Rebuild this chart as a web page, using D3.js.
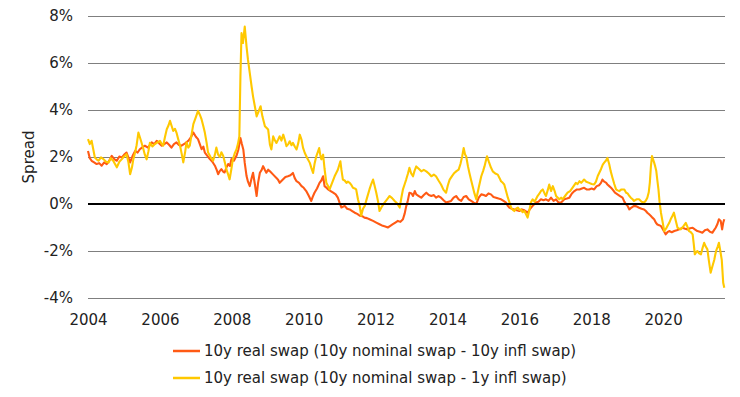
<!DOCTYPE html>
<html>
<head>
<meta charset="utf-8">
<script src="https://cdn.jsdelivr.net/npm/d3@7"></script>
<style>
  html, body { margin: 0; padding: 0; background: #fff; }
  svg { display: block; }
  text { font-family: "DejaVu Sans", Verdana, sans-serif; fill: #222; }
</style>
</head>
<body>
<div id="chart"></div>
<script>
	'use strict';

	////////// Data (decimal year, spread in %) //////////
	const yTicks = [-4, -2, 0, 2, 4, 6, 8];
	const xTickYears = [2004, 2006, 2008, 2010, 2012, 2014, 2016, 2018, 2020];
	const seriesNames = [
		'10y real swap (10y nominal swap - 10y infl swap)',
		'10y real swap (10y nominal swap - 1y infl swap)'
	];

	// 10y nominal swap - 10y infl swap
	const spread10y = [
		[2004.00, 2.26], [2004.05, 1.95], [2004.10, 1.84], [2004.17, 1.77], [2004.24, 1.70],
		[2004.31, 1.74], [2004.38, 1.63], [2004.45, 1.77], [2004.52, 1.70], [2004.59, 1.84],
		[2004.66, 2.05], [2004.73, 1.91], [2004.80, 1.84], [2004.87, 2.02], [2004.94, 1.98],
		[2005.00, 2.09], [2005.07, 2.19], [2005.12, 1.98], [2005.17, 1.77], [2005.24, 2.05],
		[2005.31, 2.26], [2005.38, 2.19], [2005.44, 2.33], [2005.51, 2.41], [2005.58, 2.48],
		[2005.67, 2.40], [2005.77, 2.62], [2005.84, 2.55], [2005.91, 2.69], [2005.98, 2.58],
		[2006.05, 2.48], [2006.12, 2.55], [2006.19, 2.62], [2006.26, 2.51], [2006.32, 2.40],
		[2006.39, 2.55], [2006.46, 2.62], [2006.53, 2.51], [2006.60, 2.48], [2006.70, 2.58],
		[2006.79, 2.69], [2006.86, 2.83], [2006.93, 3.04], [2007.00, 2.86], [2007.06, 2.76],
		[2007.11, 2.55], [2007.16, 2.33], [2007.21, 2.44], [2007.25, 2.19], [2007.32, 2.05],
		[2007.39, 1.91], [2007.46, 1.80], [2007.53, 1.63], [2007.58, 1.45], [2007.62, 1.27],
		[2007.67, 1.41], [2007.71, 1.48], [2007.76, 1.38], [2007.80, 1.34], [2007.85, 1.55],
		[2007.90, 1.70], [2007.95, 1.62], [2007.99, 1.91], [2008.06, 1.84], [2008.13, 2.05],
		[2008.18, 2.30], [2008.24, 2.81], [2008.28, 2.55], [2008.32, 2.32], [2008.36, 1.75],
		[2008.41, 1.19], [2008.45, 0.95], [2008.50, 0.76], [2008.55, 1.10], [2008.59, 1.33],
		[2008.64, 0.85], [2008.69, 0.34], [2008.73, 0.90], [2008.78, 1.33], [2008.83, 1.45],
		[2008.87, 1.61], [2008.92, 1.45], [2008.96, 1.33], [2009.01, 1.46], [2009.06, 1.39],
		[2009.15, 1.25], [2009.24, 1.11], [2009.29, 1.02], [2009.33, 0.90], [2009.42, 1.04],
		[2009.49, 1.15], [2009.56, 1.18], [2009.63, 1.22], [2009.70, 1.32], [2009.75, 1.10],
		[2009.80, 0.97], [2009.87, 0.90], [2009.94, 0.76], [2010.00, 0.69], [2010.07, 0.55],
		[2010.14, 0.35], [2010.21, 0.13], [2010.25, 0.30], [2010.30, 0.48], [2010.37, 0.66],
		[2010.44, 0.90], [2010.49, 1.00], [2010.54, 1.18], [2010.58, 0.76], [2010.63, 0.70],
		[2010.68, 0.62], [2010.75, 0.55], [2010.82, 0.48], [2010.89, 0.41], [2010.95, 0.27],
		[2011.00, 0.05], [2011.05, -0.15], [2011.14, -0.08], [2011.21, -0.20], [2011.28, -0.23],
		[2011.35, -0.30], [2011.42, -0.37], [2011.49, -0.42], [2011.56, -0.50], [2011.63, -0.52],
		[2011.69, -0.58], [2011.76, -0.60], [2011.83, -0.65], [2011.93, -0.72], [2012.02, -0.79],
		[2012.11, -0.86], [2012.20, -0.93], [2012.27, -0.96], [2012.34, -1.00], [2012.41, -0.93],
		[2012.48, -0.86], [2012.55, -0.79], [2012.62, -0.72], [2012.69, -0.76], [2012.76, -0.65],
		[2012.81, -0.40], [2012.85, -0.10], [2012.89, 0.10], [2012.94, 0.48], [2013.00, 0.45],
		[2013.04, 0.34], [2013.09, 0.55], [2013.13, 0.41], [2013.20, 0.34], [2013.27, 0.27],
		[2013.34, 0.38], [2013.41, 0.48], [2013.48, 0.38], [2013.55, 0.34], [2013.62, 0.38],
		[2013.68, 0.27], [2013.75, 0.34], [2013.82, 0.27], [2013.89, 0.16], [2013.96, 0.06],
		[2014.03, 0.10], [2014.10, 0.13], [2014.17, 0.27], [2014.24, 0.34], [2014.31, 0.20],
		[2014.38, 0.13], [2014.45, 0.30], [2014.52, 0.34], [2014.59, 0.20], [2014.66, 0.13],
		[2014.73, 0.06], [2014.80, 0.00], [2014.87, 0.27], [2014.94, 0.41], [2015.01, 0.38],
		[2015.07, 0.34], [2015.14, 0.45], [2015.21, 0.41], [2015.28, 0.30], [2015.35, 0.27],
		[2015.42, 0.23], [2015.49, 0.20], [2015.56, 0.13], [2015.63, 0.06], [2015.68, -0.08],
		[2015.72, -0.15], [2015.79, -0.20], [2015.86, -0.23], [2015.93, -0.27], [2016.00, -0.30],
		[2016.07, -0.23], [2016.14, -0.27], [2016.23, -0.37], [2016.30, -0.20], [2016.37, -0.08],
		[2016.42, 0.00], [2016.46, 0.06], [2016.53, 0.10], [2016.60, 0.20], [2016.67, 0.16],
		[2016.74, 0.20], [2016.81, 0.13], [2016.88, 0.27], [2016.95, 0.13], [2017.02, 0.20],
		[2017.09, 0.06], [2017.16, 0.06], [2017.25, 0.20], [2017.32, 0.23], [2017.39, 0.27],
		[2017.46, 0.45], [2017.53, 0.55], [2017.60, 0.62], [2017.67, 0.62], [2017.74, 0.66],
		[2017.80, 0.69], [2017.87, 0.62], [2017.94, 0.62], [2018.01, 0.66], [2018.08, 0.62],
		[2018.15, 0.76], [2018.22, 0.80], [2018.27, 0.90], [2018.31, 1.04], [2018.36, 0.95],
		[2018.41, 0.91], [2018.45, 0.83], [2018.50, 0.76], [2018.55, 0.69], [2018.59, 0.62],
		[2018.66, 0.48], [2018.73, 0.41], [2018.80, 0.34], [2018.87, 0.27], [2018.92, 0.10],
		[2018.96, 0.00], [2019.01, -0.08], [2019.06, -0.23], [2019.12, -0.15], [2019.19, -0.08],
		[2019.26, -0.10], [2019.33, -0.16], [2019.40, -0.20], [2019.47, -0.23], [2019.52, -0.30],
		[2019.56, -0.37], [2019.61, -0.44], [2019.66, -0.51], [2019.70, -0.58], [2019.75, -0.65],
		[2019.80, -0.80], [2019.84, -0.87], [2019.89, -0.90], [2019.94, -0.94], [2020.00, -1.10],
		[2020.07, -1.29], [2020.12, -1.20], [2020.17, -1.15], [2020.24, -1.20], [2020.31, -1.15],
		[2020.38, -1.12], [2020.45, -1.08], [2020.50, -1.04], [2020.54, -1.01], [2020.61, -1.05],
		[2020.68, -1.08], [2020.75, -1.03], [2020.82, -1.01], [2020.88, -1.08], [2020.95, -1.15],
		[2021.02, -1.18], [2021.09, -1.22], [2021.16, -1.12], [2021.23, -1.08], [2021.30, -1.18],
		[2021.37, -1.22], [2021.42, -1.10], [2021.46, -1.01], [2021.51, -0.85], [2021.55, -0.65],
		[2021.60, -0.72], [2021.64, -1.08], [2021.67, -0.80], [2021.70, -0.65]
	];

	// 10y nominal swap - 1y infl swap
	const spread1y = [
		[2004.00, 2.76], [2004.05, 2.55], [2004.10, 2.69], [2004.15, 2.30], [2004.19, 1.98],
		[2004.24, 1.90], [2004.29, 1.84], [2004.36, 1.98], [2004.43, 1.91], [2004.50, 1.80],
		[2004.57, 1.77], [2004.63, 1.95], [2004.70, 1.84], [2004.75, 1.70], [2004.80, 1.56],
		[2004.87, 1.80], [2004.94, 1.91], [2005.00, 2.02], [2005.07, 2.12], [2005.12, 1.80],
		[2005.17, 1.27], [2005.22, 1.55], [2005.26, 1.91], [2005.31, 2.20], [2005.35, 2.50],
		[2005.40, 3.04], [2005.47, 2.70], [2005.54, 2.33], [2005.58, 2.10], [2005.63, 1.90],
		[2005.68, 2.25], [2005.72, 2.60], [2005.79, 2.45], [2005.86, 2.55], [2005.93, 2.62],
		[2006.00, 2.69], [2006.05, 2.55], [2006.09, 2.48], [2006.14, 2.85], [2006.19, 3.18],
		[2006.24, 3.35], [2006.28, 3.54], [2006.33, 3.30], [2006.37, 3.11], [2006.42, 3.20],
		[2006.46, 3.04], [2006.51, 2.75], [2006.56, 2.48], [2006.61, 2.10], [2006.65, 1.77],
		[2006.70, 2.20], [2006.74, 2.62], [2006.79, 2.40], [2006.83, 2.48], [2006.88, 2.95],
		[2006.93, 3.40], [2007.00, 3.70], [2007.06, 3.96], [2007.11, 3.80], [2007.16, 3.60],
		[2007.21, 3.30], [2007.25, 3.04], [2007.30, 2.60], [2007.34, 2.19], [2007.41, 2.00],
		[2007.48, 1.84], [2007.53, 2.10], [2007.57, 2.40], [2007.62, 2.10], [2007.67, 2.00],
		[2007.71, 2.20], [2007.76, 2.05], [2007.81, 1.75], [2007.85, 1.47], [2007.90, 1.25],
		[2007.94, 1.05], [2007.99, 1.50], [2008.03, 1.90], [2008.08, 2.15], [2008.13, 2.32],
		[2008.17, 2.55], [2008.21, 2.88], [2008.24, 5.43], [2008.27, 7.27], [2008.31, 6.85],
		[2008.36, 7.55], [2008.41, 6.70], [2008.45, 6.13], [2008.50, 5.57], [2008.55, 5.00],
		[2008.59, 4.58], [2008.64, 4.16], [2008.69, 3.73], [2008.76, 4.00], [2008.80, 4.16],
		[2008.85, 3.73], [2008.92, 3.31], [2009.01, 3.17], [2009.06, 2.52], [2009.10, 2.32],
		[2009.15, 2.88], [2009.20, 2.70], [2009.24, 2.60], [2009.29, 2.75], [2009.33, 2.88],
		[2009.38, 2.70], [2009.43, 2.95], [2009.48, 2.70], [2009.52, 2.46], [2009.57, 2.55],
		[2009.61, 2.67], [2009.66, 2.50], [2009.70, 2.60], [2009.75, 2.45], [2009.80, 2.32],
		[2009.85, 2.60], [2009.89, 2.95], [2009.94, 2.73], [2009.98, 2.40], [2010.03, 2.17],
		[2010.10, 1.95], [2010.17, 1.75], [2010.21, 1.55], [2010.26, 1.32], [2010.30, 1.70],
		[2010.35, 2.03], [2010.43, 2.38], [2010.46, 2.10], [2010.49, 1.90], [2010.54, 2.10],
		[2010.58, 1.50], [2010.63, 0.90], [2010.68, 0.76], [2010.72, 0.62], [2010.79, 0.90],
		[2010.86, 1.18], [2010.95, 1.46], [2011.02, 1.82], [2011.05, 1.45], [2011.09, 1.04],
		[2011.14, 1.00], [2011.19, 0.90], [2011.23, 0.95], [2011.28, 0.90], [2011.33, 0.80],
		[2011.37, 0.69], [2011.42, 0.66], [2011.46, 0.62], [2011.51, 0.20], [2011.56, -0.10],
		[2011.60, -0.50], [2011.65, -0.20], [2011.70, -0.08], [2011.76, 0.25], [2011.83, 0.62],
		[2011.88, 0.85], [2011.93, 1.04], [2011.97, 0.80], [2012.02, 0.48], [2012.07, 0.10],
		[2012.11, -0.30], [2012.18, -0.10], [2012.25, 0.06], [2012.32, 0.20], [2012.39, 0.34],
		[2012.46, 0.25], [2012.53, 0.13], [2012.60, 0.02], [2012.67, -0.15], [2012.72, 0.30],
		[2012.76, 0.62], [2012.81, 0.85], [2012.85, 1.04], [2012.90, 1.30], [2012.94, 1.54],
		[2012.99, 1.30], [2013.04, 1.18], [2013.08, 1.40], [2013.13, 1.60], [2013.20, 1.50],
		[2013.27, 1.39], [2013.34, 1.45], [2013.41, 1.39], [2013.48, 1.30], [2013.55, 1.18],
		[2013.62, 1.25], [2013.68, 1.18], [2013.75, 1.00], [2013.82, 0.83], [2013.89, 0.60],
		[2013.96, 0.48], [2014.01, 0.80], [2014.06, 1.04], [2014.13, 1.20], [2014.19, 1.32],
		[2014.25, 1.40], [2014.31, 1.46], [2014.36, 1.70], [2014.41, 2.03], [2014.45, 2.38],
		[2014.49, 2.10], [2014.52, 2.03], [2014.57, 1.60], [2014.61, 1.32], [2014.66, 1.00],
		[2014.70, 0.76], [2014.75, 0.45], [2014.80, 0.20], [2014.87, 0.70], [2014.94, 1.18],
		[2014.99, 1.40], [2015.03, 1.60], [2015.07, 1.85], [2015.10, 2.03], [2015.15, 1.80],
		[2015.21, 1.55], [2015.26, 1.39], [2015.33, 1.30], [2015.40, 1.25], [2015.45, 1.10],
		[2015.49, 0.97], [2015.54, 0.90], [2015.58, 0.83], [2015.63, 0.55], [2015.68, 0.27],
		[2015.73, 0.05], [2015.77, -0.15], [2015.82, -0.25], [2015.86, -0.30], [2015.91, -0.20],
		[2015.96, -0.15], [2016.00, -0.25], [2016.05, -0.23], [2016.09, -0.35], [2016.14, -0.30],
		[2016.19, -0.45], [2016.23, -0.58], [2016.28, -0.25], [2016.32, 0.06], [2016.37, 0.20],
		[2016.42, 0.10], [2016.46, 0.20], [2016.51, 0.35], [2016.56, 0.45], [2016.60, 0.55],
		[2016.65, 0.62], [2016.70, 0.45], [2016.74, 0.34], [2016.79, 0.60], [2016.83, 0.83],
		[2016.88, 0.55], [2016.93, 0.76], [2016.98, 0.55], [2017.02, 0.34], [2017.11, 0.20],
		[2017.16, 0.27], [2017.20, 0.20], [2017.27, 0.34], [2017.34, 0.48], [2017.41, 0.55],
		[2017.48, 0.70], [2017.57, 0.90], [2017.62, 0.85], [2017.67, 0.97], [2017.72, 0.90],
		[2017.80, 1.04], [2017.86, 0.95], [2017.94, 0.90], [2018.01, 0.85], [2018.08, 0.83],
		[2018.13, 0.95], [2018.18, 1.19], [2018.23, 1.35], [2018.27, 1.48], [2018.32, 1.68],
		[2018.36, 1.76], [2018.41, 1.85], [2018.45, 1.96], [2018.50, 1.69], [2018.54, 1.40],
		[2018.59, 1.12], [2018.64, 0.85], [2018.69, 0.62], [2018.73, 0.58], [2018.78, 0.55],
		[2018.84, 0.62], [2018.92, 0.62], [2018.97, 0.48], [2019.01, 0.45], [2019.06, 0.34],
		[2019.10, 0.27], [2019.15, 0.20], [2019.19, 0.13], [2019.26, 0.20], [2019.33, 0.20],
		[2019.40, 0.10], [2019.47, 0.06], [2019.52, 0.15], [2019.56, 0.27], [2019.60, 0.50],
		[2019.63, 0.91], [2019.66, 1.60], [2019.69, 2.04], [2019.72, 1.90], [2019.75, 1.76],
		[2019.78, 1.60], [2019.81, 1.40], [2019.84, 1.00], [2019.87, 0.62], [2019.90, 0.10],
		[2019.94, -0.37], [2019.99, -0.80], [2020.03, -1.15], [2020.08, -1.05], [2020.12, -0.94],
		[2020.17, -0.80], [2020.21, -0.65], [2020.26, -0.50], [2020.30, -0.37], [2020.35, -0.70],
		[2020.40, -1.01], [2020.45, -1.05], [2020.49, -1.08], [2020.56, -0.95], [2020.63, -0.80],
		[2020.67, -0.95], [2020.72, -1.15], [2020.77, -1.20], [2020.82, -1.29], [2020.85, -1.70],
		[2020.88, -2.14], [2020.92, -2.05], [2020.95, -2.00], [2021.00, -2.10], [2021.05, -2.14],
		[2021.09, -1.90], [2021.14, -1.65], [2021.18, -1.80], [2021.23, -1.93], [2021.27, -2.40],
		[2021.32, -2.92], [2021.37, -2.65], [2021.42, -2.38], [2021.45, -2.15], [2021.48, -1.96],
		[2021.52, -1.80], [2021.55, -1.65], [2021.59, -2.00], [2021.63, -2.38], [2021.67, -3.35],
		[2021.70, -3.56]
	];

	////////// Layout //////////
	const width = 740, height = 397;
	const plot = { left: 88, right: 725, top: 16, bottom: 298 };
	const colors = ['#ff5a14', '#ffc800'];
	const font = '15px';

	// decimal year -> Date
	const toDate = yr => {
		const y = Math.floor(yr);
		const start = new Date(y, 0, 1), end = new Date(y + 1, 0, 1);
		return new Date(+start + (yr - y) * (end - start));
	};

	const svg = d3.select('#chart').append('svg')
		.attr('width', width)
		.attr('height', height);

	const x = d3.scaleTime()
		.domain([toDate(2004), toDate(2021.72)])
		.range([plot.left, plot.right]);
	const y = d3.scaleLinear()
		.domain([-4, 8])
		.range([plot.bottom, plot.top]);

	// gridlines + y labels
	const yAxis = svg.append('g')
		.attr('transform', `translate(${plot.left},0)`)
		.call(d3.axisLeft(y).tickValues(yTicks).tickSize(-(plot.right - plot.left)).tickPadding(15).tickFormat(d => d + '%'));
	yAxis.select('.domain').remove();
	yAxis.selectAll('.tick line').attr('stroke', '#7f7f7f').attr('stroke-width', 1.2);
	yAxis.selectAll('.tick text').style('font-size', font).attr('fill', '#222');

	// x labels
	const xAxis = svg.append('g')
		.attr('transform', `translate(0,${plot.bottom})`)
		.call(d3.axisBottom(x).tickValues(xTickYears.map(d => toDate(d))).tickSize(0).tickPadding(16).tickFormat(d3.timeFormat('%Y')));
	xAxis.select('.domain').remove();
	xAxis.selectAll('.tick text').style('font-size', font).attr('fill', '#222');

	// y title
	svg.append('text')
		.attr('transform', `translate(34,${(plot.top + plot.bottom) / 2}) rotate(-90)`)
		.attr('text-anchor', 'middle')
		.style('font-size', font)
		.text('Spread');

	// lines
	const line = d3.line()
		.x(d => x(toDate(d[0])))
		.y(d => y(d[1]));

	[spread10y, spread1y].forEach((series, i) => {
		svg.append('path')
			.datum(series)
			.attr('fill', 'none')
			.attr('stroke', colors[i])
			.attr('stroke-width', 2.1)
			.attr('stroke-linejoin', 'round')
			.attr('d', line);
	});

	// zero line on top
	svg.append('line')
		.attr('x1', plot.left).attr('x2', plot.right)
		.attr('y1', y(0)).attr('y2', y(0))
		.attr('stroke', '#000').attr('stroke-width', 2);

	// legend
	const legend = svg.append('g').attr('class', 'legend');
	seriesNames.forEach((name, i) => {
		const ly = 351 + i * 27;
		legend.append('line')
			.attr('x1', 173).attr('x2', 200)
			.attr('y1', ly).attr('y2', ly)
			.attr('stroke', colors[i]).attr('stroke-width', 2.5);
		legend.append('text')
			.attr('x', 204).attr('y', ly)
			.attr('dy', '0.35em')
			.style('font-size', font)
			.text(name);
	});
</script>
</body>
</html>
